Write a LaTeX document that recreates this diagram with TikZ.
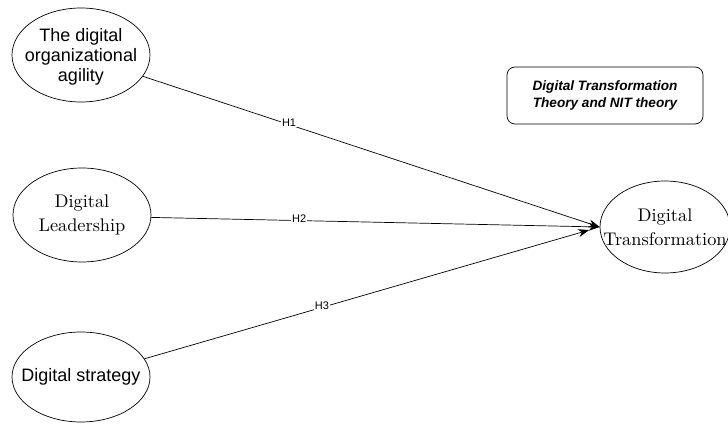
\documentclass[tikz,border=0pt]{standalone}
\usepackage{fontspec}
\setsansfont{Liberation Sans}
\newfontfamily\constructfont{lmroman10-regular.otf}
\usetikzlibrary{shapes.geometric,arrows.meta}

\begin{document}
\begin{tikzpicture}[x=1pt, y=1pt,
    construct/.style={draw, ellipse, line width=0.7pt, inner sep=0pt},
    sanstxt/.style={font=\sffamily\fontsize{18}{20}\selectfont, align=center},
    seriftxt/.style={font=\constructfont\fontsize{18.3}{24}\selectfont, align=center},
    arrow/.style={-{Stealth[length=11pt,width=8pt]}, line width=0.7pt},
    lbl/.style={font=\sffamily\fontsize{11}{12}\selectfont, fill=white, inner sep=1pt, yshift=2pt}
  ]
    \useasboundingbox (0,0) rectangle (728,426);

    \node[construct, minimum width=138pt, minimum height=94pt,
          label={[sanstxt, yshift=-2pt]center:{The digital\\organizational\\agility}}] (agility) at (81,371) {};
    \node[construct, minimum width=138pt, minimum height=94pt,
          label={[seriftxt]center:{Digital\\Leadership}}] (leader) at (82,211) {};
    \node[construct, minimum width=138pt, minimum height=90pt,
          label={[sanstxt]center:{Digital strategy}}] (strategy) at (81,49) {};
    \node[construct, minimum width=130pt, minimum height=92pt,
          label={[seriftxt]center:{Digital\\Transformation}}] (dt) at (665,199) {};

    \node[draw, rounded corners=8pt, line width=0.7pt, minimum width=196pt, minimum height=57pt,
          font=\sffamily\bfseries\itshape\fontsize{13.6}{16.5}\selectfont, align=center]
          (theory) at (605,330.5) {Digital Transformation\\Theory and NIT theory};

    \draw[arrow] (agility.-19.5) -- node[lbl, pos=0.32] {H1} (dt.west);
    \draw[arrow] (leader.-2) -- node[lbl, pos=0.33] {H2} (dt.west);
    \draw[arrow, shorten >=11pt] (strategy.16.5) -- node[lbl, pos=0.39] {H3} (dt.west);
  \end{tikzpicture}
\end{document}
